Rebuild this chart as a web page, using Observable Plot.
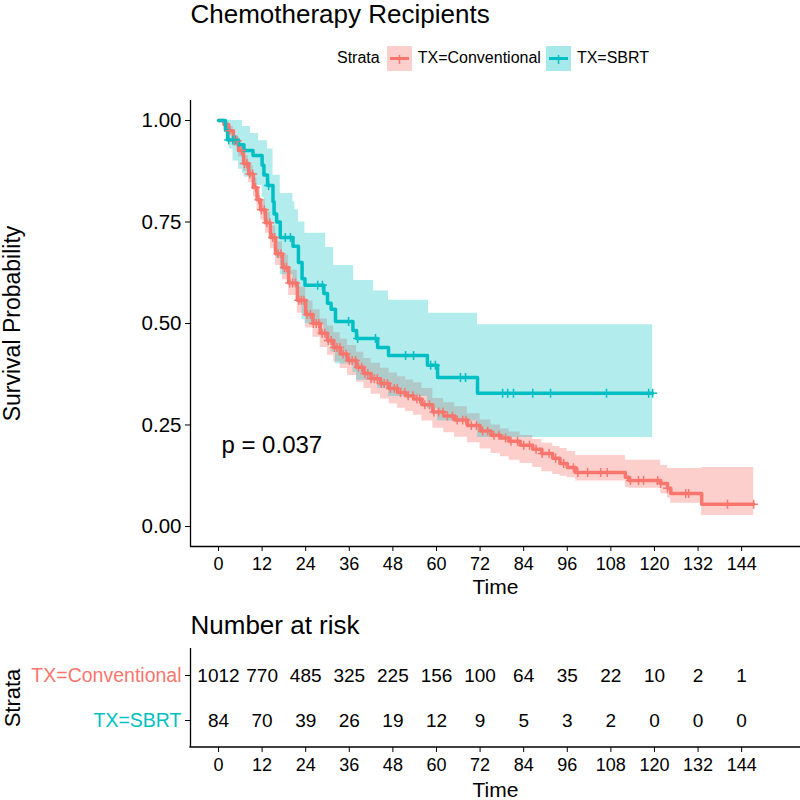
<!DOCTYPE html>
<html><head><meta charset="utf-8">
<script src="https://cdn.jsdelivr.net/npm/d3@7"></script>
<script src="https://cdn.jsdelivr.net/npm/@observablehq/plot@0.6"></script>
<style>
body{margin:0;background:#fff;}
#chart{position:relative;width:800px;height:800px;overflow:hidden;font-family:"Liberation Sans",Arial,Helvetica,sans-serif;color:#000;background:#fff;}
#chart svg{position:absolute;left:0;}
.legend{position:absolute;left:337px;top:45px;height:26px;display:flex;align-items:center;font-size:16px;white-space:nowrap;}
.legend .key{width:25px;height:25px;margin-right:6px;}
.legend .lab{margin-right:5px;}
</style></head><body><div id="chart"></div>
<script>
// ---------- data ----------
const strata = ["TX=Conventional", "TX=SBRT"];
const strataColors = ["#F8766D", "#00BFC4"];
const chartTitle = "Chemotherapy Recipients";
const pValueLabel = "p = 0.037";

// TX=Conventional Kaplan-Meier estimate and confidence band
const convTime  = [0,1.5,2.8,4.1,5.5,6.9,8.3,9.6,10.6,11.6,12.9,14.3,15.7,17.6,19.3,21.7,24,26,28,30,31.7,33.5,35.5,38,40,42,44.6,47,49.3,51.5,53.7,56,59,62,65,68.5,72,75,77.6,80,83,86.5,89,92,94,96,98.3,112,113,121.7,123.6,124.5,133,147.3];
const convSurv  = [1,0.99,0.975,0.95,0.926,0.894,0.868,0.835,0.805,0.78,0.748,0.712,0.672,0.638,0.6,0.557,0.522,0.5,0.476,0.458,0.441,0.425,0.409,0.392,0.377,0.364,0.352,0.34,0.33,0.322,0.314,0.3,0.282,0.272,0.262,0.249,0.235,0.225,0.218,0.21,0.2,0.19,0.18,0.168,0.155,0.145,0.133,0.121,0.113,0.106,0.094,0.081,0.055,0.055];
const convUpper = [1,0.996,0.985,0.963,0.942,0.913,0.889,0.858,0.829,0.805,0.774,0.74,0.701,0.668,0.631,0.589,0.555,0.534,0.511,0.494,0.477,0.461,0.446,0.429,0.414,0.402,0.39,0.378,0.369,0.361,0.354,0.34,0.315,0.305,0.295,0.278,0.262,0.25,0.24,0.233,0.224,0.214,0.205,0.197,0.192,0.185,0.175,0.163,0.163,0.15,0.143,0.143,0.145,0.145];
const convLower = [1,0.984,0.965,0.937,0.91,0.875,0.847,0.812,0.781,0.755,0.722,0.684,0.643,0.608,0.569,0.525,0.489,0.466,0.441,0.422,0.405,0.389,0.372,0.355,0.34,0.326,0.314,0.302,0.291,0.283,0.274,0.26,0.242,0.231,0.22,0.206,0.191,0.18,0.172,0.163,0.155,0.145,0.135,0.128,0.124,0.12,0.112,0.096,0.094,0.08,0.07,0.057,0.027,0.027];
const convCensor = [3.1,4.4,5.2,6.3,7.1,7.8,8.6,9.4,10.2,11.1,11.8,12.6,13.3,14.1,14.9,15.5,16.4,17.2,18.1,18.7,19.6,20.4,21.2,22.1,22.8,23.5,24.4,25.3,26.1,26.9,27.6,28.5,29.3,30.2,31,31.9,32.6,33.4,34.3,35.1,36,36.8,37.7,38.5,39.4,40.3,41.1,42,42.9,43.7,44.8,45.6,46.5,47.3,48.4,49.2,50.1,51.3,52.2,53.5,54.6,55.4,56.8,58.1,59.3,60.6,61.8,63,64.4,65.7,67.2,68.1,69.6,71,72.7,74.1,75.8,77.2,79,80.5,82.3,84,85.6,87.4,89.1,91,92.8,95,97.7,98.9,101.6,105.2,107,113.4,115.6,117,120.9,121.7,123.6,128.6,129.4,140.1,147.3];

// TX=SBRT Kaplan-Meier estimate and confidence band
const sbrtTime = [0,1.9,2.5,5.5,7,9.5,12,12.5,13.5,15,15.3,16,17,20.5,22,23,23.8,29,30,31,32.2,37,38,43.8,46.8,57.5,60.3,71.3,119.5];
const sbrtSurv = [1,0.976,0.952,0.94,0.926,0.914,0.89,0.866,0.84,0.8,0.77,0.75,0.712,0.69,0.65,0.61,0.594,0.574,0.55,0.535,0.505,0.483,0.463,0.441,0.421,0.397,0.367,0.328,0.328];
const sbrtBandTime = [0,2,3,4,5.5,6.6,7,8.8,9.5,11,12,12.5,13.5,15,15.3,16,17,20.5,21,22,23,23.8,29,29.5,30,31,31.7,32.2,37,37.2,38,42.7,43.8,46.8,57.5,57.8,60.3,71.3,119.5];
const sbrtLower = [1,0.97,0.93,0.9,0.88,0.87,0.86,0.86,0.84,0.84,0.81,0.78,0.75,0.71,0.68,0.66,0.62,0.6,0.6,0.55,0.51,0.5,0.47,0.47,0.45,0.43,0.43,0.4,0.38,0.38,0.36,0.36,0.34,0.32,0.29,0.29,0.26,0.219,0.219];
const sbrtUpper = [1,1,1,1,1,0.985,0.985,0.968,0.968,0.95,0.95,0.95,0.93,0.865,0.865,0.865,0.82,0.8,0.78,0.75,0.75,0.722,0.722,0.687,0.687,0.687,0.643,0.643,0.643,0.606,0.606,0.58,0.58,0.557,0.557,0.525,0.525,0.497,0.497];
const sbrtCensor = [2.8,3.9,4.7,13.8,18.4,19.8,27.3,28.6,35.8,38.3,43.2,51.5,53.7,58.4,59.7,66.6,68,78.2,79.6,81.2,86.5,91.4,106.8,118.4,119.5];

// axes and risk table
const timeTicks = [0,12,24,36,48,60,72,84,96,108,120,132,144];
const survTicks = [0,0.25,0.5,0.75,1];
const riskConv = [1012,770,485,325,225,156,100,64,35,22,10,2,1];
const riskSbrt = [84,70,39,26,19,12,9,5,3,2,0,0,0];

// ---------- build ----------
const xDomain = [-7.71, 160.2];
const yDomain = [-0.0493, 1.0493];
const font = '"Liberation Sans", Arial, Helvetica, sans-serif';

function stepAt(times, vals, t) {
  let v = vals[0];
  for (let i = 0; i < times.length; i++) if (times[i] <= t) v = vals[i];
  return v;
}
const convRows = convTime.map((t, i) => ({t, s: convSurv[i], lo: convLower[i], hi: convUpper[i]}));
const sbrtRows = sbrtTime.map((t, i) => ({t, s: sbrtSurv[i]}));
const sbrtBand = sbrtBandTime.map((t, i) => ({t, lo: sbrtLower[i], hi: sbrtUpper[i]}));
const convCens = convCensor.map(t => ({t, s: stepAt(convTime, convSurv, t)}));
const sbrtCens = sbrtCensor.map(t => ({t, s: stepAt(sbrtTime, sbrtSurv, t)}));

const chart = document.getElementById("chart");

const main = Plot.plot({
  width: 800, height: 610,
  marginLeft: 190, marginRight: 0, marginTop: 100, marginBottom: 64,
  style: {fontFamily: font, color: "#000", background: "transparent", overflow: "visible"},
  x: {domain: xDomain, label: null},
  y: {domain: yDomain, label: null},
  marks: [
    Plot.areaY(convRows, {x: "t", y1: "lo", y2: "hi", curve: "step-after", fill: strataColors[0], fillOpacity: 0.35}),
    Plot.areaY(sbrtBand, {x: "t", y1: "lo", y2: "hi", curve: "step-after", fill: strataColors[1], fillOpacity: 0.3}),
    Plot.line(convRows, {x: "t", y: "s", curve: "step-after", stroke: strataColors[0], strokeWidth: 3.5}),
    Plot.line(sbrtRows, {x: "t", y: "s", curve: "step-after", stroke: strataColors[1], strokeWidth: 3.5}),
    Plot.dot(convCens, {x: "t", y: "s", symbol: "plus", r: 3, stroke: strataColors[0], strokeWidth: 1.5}),
    Plot.dot(sbrtCens, {x: "t", y: "s", symbol: "plus", r: 3, stroke: strataColors[1], strokeWidth: 1.5}),
    Plot.ruleX([xDomain[0]], {stroke: "#000", strokeWidth: 1.3}),
    Plot.ruleY([yDomain[0]], {stroke: "#000", strokeWidth: 1.3}),
    Plot.axisX({ticks: timeTicks, tickSize: 5, tickPadding: 6, fontSize: 18, label: null}),
    Plot.axisY({ticks: survTicks, tickFormat: d3.format(".2f"), tickSize: 5, tickPadding: 4, fontSize: 20.5, label: null}),
    Plot.text([pValueLabel], {x: 0.8, y: 0.2, text: d => d, textAnchor: "start", fontSize: 24}),
    Plot.text(["Time"], {frameAnchor: "bottom", dy: 41, lineAnchor: "middle", textAnchor: "middle", text: d => d, fontSize: 21}),
    Plot.text(["Survival Probability"], {frameAnchor: "left", dx: -178, rotate: -90, lineAnchor: "middle", textAnchor: "middle", text: d => d, fontSize: 23}),
    Plot.text([chartTitle], {frameAnchor: "top-left", dy: -86, lineAnchor: "middle", textAnchor: "start", text: d => d, fontSize: 26})
  ]
});
main.style.top = "0px";
chart.appendChild(main);

// legend
const legend = document.createElement("div");
legend.className = "legend";
let lh = '<span class="lab" style="margin-right:7px">Strata</span>';
strata.forEach((s, i) => {
  const c = strataColors[i];
  lh += `<svg class="key" style="position:static" width="25" height="25"><rect width="25" height="25" fill="${c}" fill-opacity="0.35"></rect>` +
        `<line x1="3" x2="22" y1="12.5" y2="12.5" stroke="${c}" stroke-width="3"></line>` +
        `<line x1="12.5" x2="12.5" y1="9" y2="18" stroke="${c}" stroke-width="1.5"></line></svg>` +
        `<span class="lab">${s}</span>`;
});
legend.innerHTML = lh;
chart.appendChild(legend);

// risk table
const riskRows = timeTicks.flatMap((t, i) => [
  {t, stratum: strata[0], n: riskConv[i]},
  {t, stratum: strata[1], n: riskSbrt[i]}
]);
const colorOf = Object.fromEntries(strata.map((s, i) => [s, strataColors[i]]));
const tH = 190, tMT = 38, tMB = 53;
const table = Plot.plot({
  width: 800, height: tH,
  marginLeft: 190, marginRight: 0, marginTop: tMT, marginBottom: tMB,
  style: {fontFamily: font, color: "#000", background: "transparent", overflow: "visible"},
  x: {domain: xDomain, label: null},
  y: {type: "point", domain: strata, range: [65, 110], padding: 0, label: null},
  marks: [
    Plot.text(riskRows, {x: "t", y: "stratum", text: d => String(d.n), fontSize: 19, fill: "#000"}),
    Plot.ruleX([xDomain[0]], {stroke: "#000", strokeWidth: 1.3}),
    Plot.axisX({ticks: timeTicks, tickSize: 5, tickPadding: 6, fontSize: 18, label: null}),
    Plot.axisY({tickSize: 5, tickPadding: 4, fontSize: 19.5, label: null, fill: d => colorOf[d]}),
    Plot.text(["Time"], {frameAnchor: "bottom", dy: 43, lineAnchor: "middle", textAnchor: "middle", text: d => d, fontSize: 21}),
    Plot.text(["Strata"], {frameAnchor: "left", dx: -178, rotate: -90, lineAnchor: "middle", textAnchor: "middle", text: d => d, fontSize: 22}),
    Plot.text(["Number at risk"], {frameAnchor: "top-left", dy: -23, lineAnchor: "middle", textAnchor: "start", text: d => d, fontSize: 26})
  ]
});
table.style.top = "610px";
d3.select(table).append("line")
  .attr("x1", 189.35).attr("x2", 800)
  .attr("y1", tH - tMB).attr("y2", tH - tMB)
  .attr("stroke", "#000").attr("stroke-width", 1.3);
chart.appendChild(table);
</script></body></html>
